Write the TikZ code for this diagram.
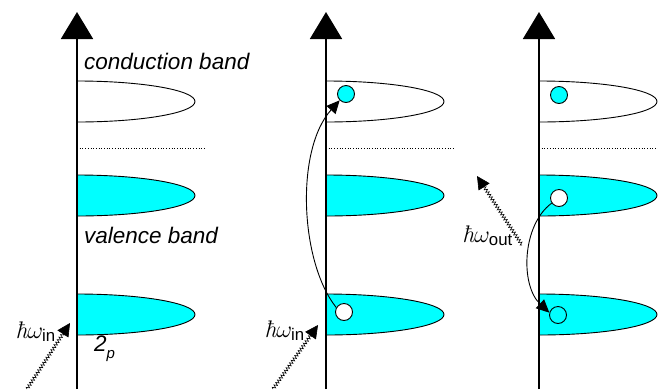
\RequirePackage{fix-cm}
\documentclass[tikz,border=0pt]{standalone}
\usepackage{amsmath}
\usepackage{fontspec}
\setsansfont{Liberation Sans}
\usetikzlibrary{arrows.meta, decorations.pathmorphing}

\definecolor{bandcyan}{RGB}{0,255,255}
\tikzset{
  axisline/.style={line width=1.8pt, -{Triangle[width=32pt, length=27pt]}},
  lobe/.style={draw, line width=0.9pt},
  gapline/.style={dotted, line width=0.7pt},
  bandlabel/.style={font=\fontsize{22.5}{26}\selectfont\sffamily\itshape, anchor=west, inner sep=0pt},
  photonlabel/.style={font=\fontsize{24}{28}\selectfont, inner sep=0pt, anchor=base east},
  photon/.style={line width=0.6pt, -{Triangle[width=13pt, length=13pt]},
    decorate, decoration={snake, amplitude=1.6pt, segment length=3pt, post length=11pt}},
  hop/.style={line width=0.9pt, -{Triangle[width=12pt, length=13pt]}},
  electron/.style={circle, draw, line width=0.9pt, fill=bandcyan, minimum size=17pt, inner sep=0pt},
  hole/.style={electron, fill=white}
}
% one half-ellipse band: axis x, top y, fill colour
\newcommand{\bandlobe}[3]{%
  \filldraw[lobe, fill=#3] (#1,#2) arc[start angle=-90, end angle=90, x radius=118, y radius=20.5] -- cycle;}
% photon energy, hbar as one glyph
\newcommand{\hw}[1]{{\itshape ħ}$\omega_{\textsf{#1}}$}

\begin{document}
\begin{tikzpicture}[x=1pt, y=-1pt]
   \useasboundingbox (0,0) rectangle (658,389);

   % Panel 1: ground state
   \bandlobe{77}{81}{white}
   \bandlobe{77}{175}{bandcyan}
   \bandlobe{77}{294}{bandcyan}
   \coordinate (g1a) at (77,148);
   \coordinate (g1b) at (205,148);
   \draw[gapline] (g1a) -- (g1b);
   \coordinate (ax1b) at (77,389);
   \coordinate (ax1t) at (77,12);
   \draw[axisline] (ax1b) -- (ax1t);
   \node[bandlabel] (cb) at (84,61) {conduction band};
   \node[bandlabel] (vb) at (84,235) {valence band};
   \node[bandlabel] (core) at (94,349) {2\raisebox{-0.3em}{\fontsize{15}{17}\selectfont p}};
   \coordinate (ph1s) at (27,389);
   \coordinate (ph1e) at (70,323);
   \draw[photon] (ph1s) -- (ph1e);
   \node[photonlabel] (win1) at (56,338) {\hw{in}};

   % Panel 2: absorption
   \bandlobe{326}{81}{white}
   \bandlobe{326}{175}{bandcyan}
   \bandlobe{326}{294}{bandcyan}
   \coordinate (g2a) at (326,148);
   \coordinate (g2b) at (453,148);
   \draw[gapline] (g2a) -- (g2b);
   \coordinate (ax2b) at (326,389);
   \coordinate (ax2t) at (326,12);
   \draw[axisline] (ax2b) -- (ax2t);
   \node[electron] (e2) at (346,94) {};
   \node[hole] (h2) at (344,312) {};
   \draw[hop] (h2.150) .. controls (300,262) and (295,150) .. (e2.225);
   \coordinate (ph2s) at (273,389);
   \coordinate (ph2e) at (318,325);
   \draw[photon] (ph2s) -- (ph2e);
   \node[photonlabel] (win2) at (305,337) {\hw{in}};

   % Panel 3: emission
   \bandlobe{539}{81}{white}
   \bandlobe{539}{175}{bandcyan}
   \bandlobe{539}{294}{bandcyan}
   \coordinate (g3a) at (539,148);
   \coordinate (g3b) at (667,148);
   \draw[gapline] (g3a) -- (g3b);
   \coordinate (ax3b) at (539,389);
   \coordinate (ax3t) at (539,12);
   \draw[axisline] (ax3b) -- (ax3t);
   \node[electron] (e3) at (559,95) {};
   \node[hole] (h3) at (559,198) {};
   \node[electron] (c3) at (558,315) {};
   \draw[hop] (h3.215) .. controls (522,225) and (520,285) .. (c3.165);
   \coordinate (ph3s) at (522,245);
   \coordinate (ph3e) at (477,176);
   \draw[photon] (ph3s) -- (ph3e);
   \node[photonlabel] (wout) at (513,242) {\hw{out}};
\end{tikzpicture}
\end{document}
